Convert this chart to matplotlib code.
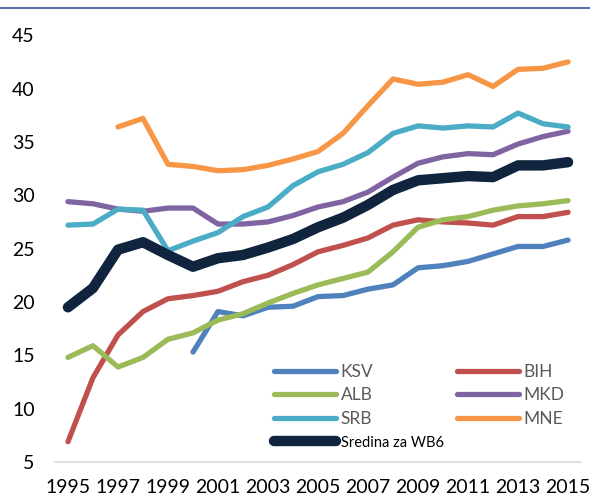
import matplotlib
matplotlib.use("Agg")
import matplotlib.pyplot as plt
from matplotlib.lines import Line2D

plt.rcParams['font.family'] = ['Lato', 'DejaVu Sans']

years = list(range(1995, 2016))

# values (None = no data)
ksv = [None, None, None, None, None, 15.3, 19.1, 18.7, 19.5, 19.6, 20.5,
       20.6, 21.2, 21.6, 23.2, 23.4, 23.8, 24.5, 25.2, 25.2, 25.8]
bih = [6.9, 12.9, 16.9, 19.1, 20.3, 20.6, 21.0, 21.9, 22.5, 23.5, 24.7,
       25.3, 26.0, 27.2, 27.7, 27.5, 27.4, 27.2, 28.0, 28.0, 28.4]
alb = [14.8, 15.9, 13.9, 14.8, 16.5, 17.1, 18.3, 18.9, 19.9, 20.8, 21.6,
       22.2, 22.8, 24.7, 27.0, 27.7, 28.0, 28.6, 29.0, 29.2, 29.5]
mkd = [29.4, 29.2, 28.7, 28.5, 28.8, 28.8, 27.3, 27.3, 27.5, 28.1, 28.9,
       29.4, 30.3, 31.7, 33.0, 33.6, 33.9, 33.8, 34.8, 35.5, 36.0]
srb = [27.2, 27.3, 28.7, 28.6, 24.8, 25.7, 26.5, 28.0, 28.9, 30.9, 32.2,
       32.9, 34.0, 35.8, 36.5, 36.3, 36.5, 36.4, 37.7, 36.7, 36.4]
mne = [None, None, 36.4, 37.2, 32.9, 32.7, 32.3, 32.4, 32.8, 33.4, 34.1,
       35.8, 38.4, 40.9, 40.4, 40.6, 41.3, 40.2, 41.8, 41.9, 42.5]
wb6 = [19.5, 21.3, 24.9, 25.6, 24.4, 23.3, 24.1, 24.4, 25.1, 25.9, 27.0,
       27.9, 29.1, 30.5, 31.4, 31.6, 31.8, 31.7, 32.8, 32.8, 33.1]

series = [
    ("KSV", ksv, "#4F81BD"),
    ("BIH", bih, "#C0504D"),
    ("ALB", alb, "#9BBB59"),
    ("MKD", mkd, "#8064A2"),
    ("SRB", srb, "#4BACC6"),
    ("MNE", mne, "#F79646"),
]

fig = plt.figure(figsize=(5.9, 4.98), dpi=100)
ax = fig.add_axes([0.094, 0.0723, 0.89, 0.857])

lines = {}
for name, vals, col in series:
    xs = [y for y, v in zip(years, vals) if v is not None]
    ys = [v for v in vals if v is not None]
    lines[name], = ax.plot(xs, ys, color=col, lw=3.8, solid_capstyle='round',
                           solid_joinstyle='round', label=name)
lines["WB6"], = ax.plot(years, wb6, color="#10243E", lw=7.5,
                        solid_capstyle='round', solid_joinstyle='round',
                        label="Sredina za WB6")

ax.set_xlim(1994.5, 2015.5)
ax.set_ylim(5, 45)
ax.set_xticks(years[::2])
ax.set_yticks(range(5, 50, 5))
ax.tick_params(length=0, labelsize=14, colors='black')
ax.tick_params(axis='y', pad=15)
ax.tick_params(axis='x', pad=12)
for s in ['top', 'right', 'left']:
    ax.spines[s].set_visible(False)
ax.spines['bottom'].set_color('#D9D9D9')
ax.spines['bottom'].set_linewidth(1.2)

# legend fills column-wise, so order entries to read row-wise like the original
order = ["KSV", "ALB", "SRB", "WB6", "BIH", "MKD", "MNE"]
handles = [lines[k] for k in order]
leg = ax.legend(handles, [h.get_label() for h in handles], ncol=2,
                frameon=False, loc='upper left',
                bbox_to_anchor=(265 / 590, 1 - 355 / 498),
                bbox_transform=fig.transFigure, borderpad=0,
                handlelength=3.6, handletextpad=0.25, columnspacing=0.75,
                labelspacing=0.45, fontsize=12.5)
for t in leg.get_texts():
    t.set_color('#595959')
leg.get_texts()[3].set_color('black')
leg.get_texts()[3].set_fontsize(10.5)

# thin rule along the top edge
fig.add_artist(Line2D([0, 1], [1 - 8 / 498, 1 - 8 / 498],
                      transform=fig.transFigure, color='#2F5597', lw=1.2))

fig.savefig("out.png", dpi=100)
